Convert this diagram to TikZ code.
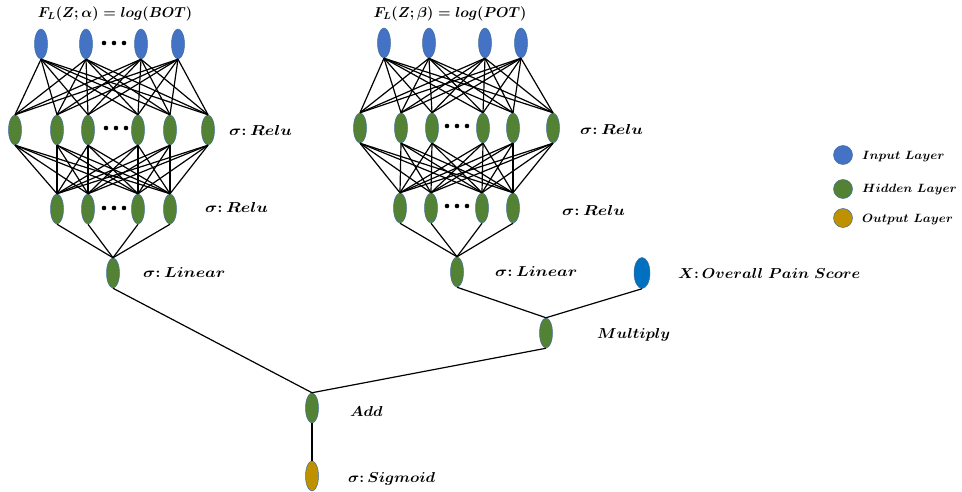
\documentclass[tikz,border=0pt]{standalone}
\usepackage{graphicx}
\usetikzlibrary{shapes.geometric}
\definecolor{inblue}{HTML}{4472C4}
\definecolor{hidgreen}{HTML}{548235}
\definecolor{outgold}{HTML}{BF9000}
\definecolor{xblue}{HTML}{0070C0}
\definecolor{rimblue}{HTML}{41719C}
\newcommand{\wide}[2][1.18]{\scalebox{#1}[1]{#2}}
\begin{document}
\begin{tikzpicture}[x=1pt,y=-1pt,
  neuron/.style={ellipse,draw=rimblue,line width=0.5pt,minimum width=13pt,minimum height=30pt,inner sep=0pt},
  inp/.style={neuron,fill=inblue},
  hid/.style={neuron,fill=hidgreen},
  outn/.style={neuron,fill=outgold},
  xin/.style={neuron,fill=xblue,minimum width=16pt,minimum height=31pt},
  legdot/.style={circle,draw=rimblue,line width=0.5pt,minimum size=19pt,inner sep=0pt},
  edge/.style={line width=1.2pt,black},
  lab/.style={anchor=west,inner sep=0pt,font=\fontsize{15}{18}\selectfont\boldmath},
  ttl/.style={inner sep=0pt,font=\fontsize{13.8}{16}\selectfont\boldmath},
  leg/.style={anchor=west,inner sep=0pt,font=\fontsize{14.5}{17}\selectfont\boldmath},
  legs/.style={anchor=west,inner sep=0pt,font=\fontsize{13}{16}\selectfont\boldmath},
  dotc/.style={fill=black,draw=none}]
\useasboundingbox (0,0) rectangle (962,492);
% left network
\foreach \x [count=\i] in {41,86,141,178} \node[inp] (la\i) at (\x,44) {};
\foreach \x [count=\i] in {15,57,88,138,170,208} \node[hid] (lb\i) at (\x,130) {};
\foreach \x [count=\i] in {57,88,138,170} \node[hid] (lc\i) at (\x,209) {};
\node[hid] (lo) at (113,273) {};
% right network
\foreach \x [count=\i] in {384,429,485,521} \node[inp] (ra\i) at (\x,43) {};
\foreach \x [count=\i] in {360,401,432,483,513,553} \node[hid] (rb\i) at (\x,128) {};
\foreach \x [count=\i] in {400,431,482,513} \node[hid] (rc\i) at (\x,208) {};
\node[hid] (ro) at (457,272) {};
% others
\node[xin] (xn) at (642,273) {};
\node[hid] (mul) at (546,333) {};
\node[hid] (add) at (312,408) {};
\node[outn] (sig) at (312,476) {};
% edges
\foreach \n in {l,r}{
  \foreach \i in {1,...,4}{\foreach \j in {1,...,6}{\draw[edge] (\n a\i.south) -- (\n b\j.north);}}
  \foreach \i in {1,...,6}{\foreach \j in {1,...,4}{\draw[edge] (\n b\i.south) -- (\n c\j.north);}}
  \foreach \i in {1,...,4}{\draw[edge] (\n c\i.south) -- (\n o.north);}
}
\draw[edge] (lo.south) -- (add.north);
\draw[edge] (ro.south) -- (mul.north);
\draw[edge] (xn.south) -- (mul.north);
\draw[edge] (mul.south) -- (add.north);
\draw[edge] (add.south) -- (sig.north);
% dots
\foreach \cx/\cy in {114/43,116/128,114/208,457/126,457/206}{
  \foreach \d in {-10,0,10}{\fill[dotc] (\cx+\d,\cy) circle (2.3);}}
% labels
\node[ttl] (t1) at (115,14) {$F_L(Z;\alpha)=log(BOT)$};
\node[ttl] (t2) at (450,14) {$F_L(Z;\beta)=log(POT)$};
\node[lab] (l1) at (229,131) {\wide{$\sigma\colon Relu$}};
\node[lab] (l2) at (205,208) {\wide{$\sigma\colon Relu$}};
\node[lab] (l3) at (143,273) {\wide{$\sigma\colon Linear$}};
\node[lab] (l4) at (580,130) {\wide{$\sigma\colon Relu$}};
\node[lab] (l5) at (562,210) {\wide{$\sigma\colon Relu$}};
\node[lab] (l6) at (495,272) {\wide{$\sigma\colon Linear$}};
\node[leg] (l7) at (678,273) {\wide[1.08]{$X\colon Overall\ Pain\ Score$}};
\node[leg] (l8) at (597,335) {\wide[1.08]{$Multiply$}};
\node[leg] (l9) at (350,411) {\wide[1.08]{$Add$}};
\node[leg] (l10) at (348,479) {\wide[1.08]{$\sigma\colon Sigmoid$}};
% legend
\node[legdot,fill=inblue] (g1) at (843,155) {};
\node[legdot,fill=hidgreen] (g2) at (843,189) {};
\node[legdot,fill=outgold] (g3) at (843,218) {};
\node[legs] (gt1) at (862,157) {\wide[1.06]{$Input\ Layer$}};
\node[legs] (gt2) at (862,190) {\wide[1.06]{$Hidden\ Layer$}};
\node[legs] (gt3) at (862,220) {\wide[1.06]{$Output\ Layer$}};
\end{tikzpicture}
\end{document}
